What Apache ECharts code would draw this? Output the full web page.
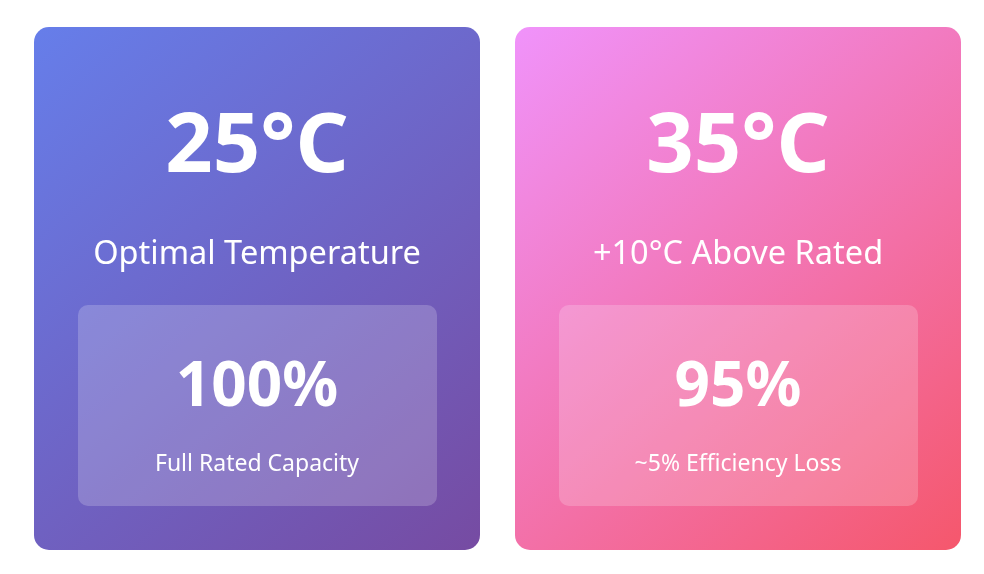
<!doctype html>
<html lang="en">
<head>
    <meta charset="UTF-8">
    <title>Temperature cards</title>
    <style>
        *{
            margin:0;
            padding:0;
        }
        html,body {
            height:100%;
            background:#fff;
        }
        #main{
            width:100%;
            height:100%;
        }
    </style>
</head>
<body>

<div id="main"></div>
<script src="https://cdn.jsdelivr.net/npm/echarts@6/dist/echarts.min.js"></script>
<script>

    var temps = ['25°C', '35°C'];
    var conditions = ['Optimal Temperature', '+10°C Above Rated'];
    var capacities = ['100%', '95%'];
    var notes = ['Full Rated Capacity', '~5% Efficiency Loss'];
    var gradients = [['#667eea', '#764ba2'], ['#f093fb', '#f5576c']];

    var myChart = echarts.init(document.getElementById('main'));

    var FONT = '"Noto Sans", "Open Sans", sans-serif';
    var cardX = [34, 515];
    var cardW = 446, cardH = 523, cardY = 27;

    var elements = [];
    temps.forEach(function (t, i) {
        var x0 = cardX[i];
        var cx = x0 + cardW / 2;
        elements.push({
            type: 'rect',
            shape: {x: x0, y: cardY, width: cardW, height: cardH, r: 15},
            style: {
                fill: new echarts.graphic.LinearGradient(0, 0, 1, 1, [
                    {offset: 0, color: gradients[i][0]},
                    {offset: 1, color: gradients[i][1]}
                ])
            }
        });
        elements.push({
            type: 'rect',
            shape: {x: x0 + 44, y: 305, width: 359, height: 201, r: 10},
            style: {fill: 'rgba(255,255,255,0.2)'}
        });
        elements.push({
            type: 'text',
            style: {
                x: cx, y: 148, text: t, fill: '#fff',
                font: 'bold 83px ' + FONT,
                textAlign: 'center', textVerticalAlign: 'middle'
            }
        });
        elements.push({
            type: 'text',
            style: {
                x: cx, y: 255, text: conditions[i], fill: '#fff',
                font: '32.5px ' + FONT,
                textAlign: 'center', textVerticalAlign: 'middle'
            }
        });
        elements.push({
            type: 'text',
            style: {
                x: cx, y: 388, text: capacities[i], fill: '#fff',
                font: 'bold 62px ' + FONT,
                textAlign: 'center', textVerticalAlign: 'middle'
            }
        });
        elements.push({
            type: 'text',
            style: {
                x: cx, y: 464, text: notes[i], fill: '#fff',
                font: '23px ' + FONT,
                textAlign: 'center', textVerticalAlign: 'middle'
            }
        });
    });

    myChart.setOption({
        graphic: {elements: elements}
    });

</script>
</body>
</html>
